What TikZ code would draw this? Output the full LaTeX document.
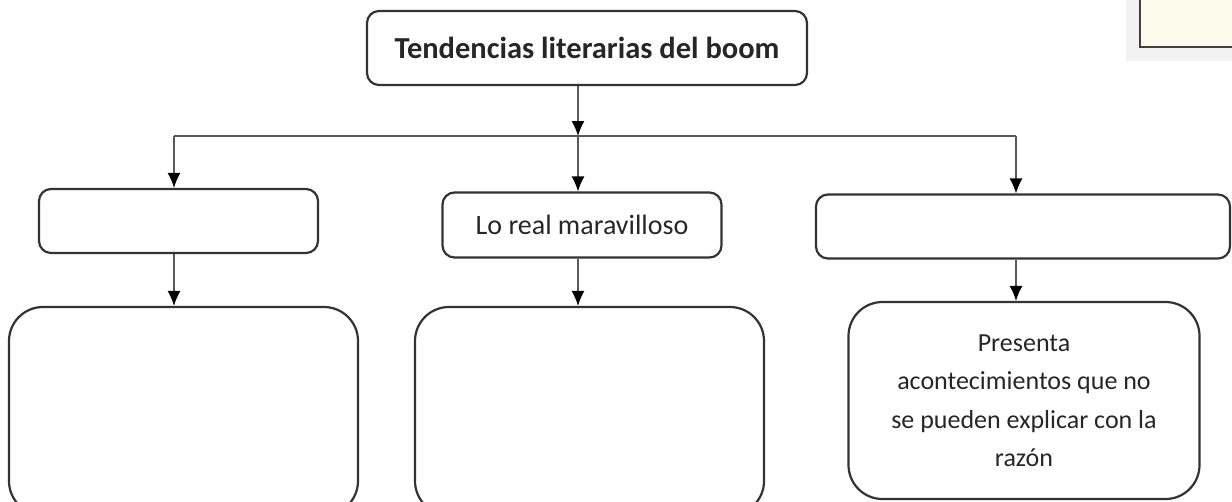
\documentclass[tikz,border=0pt]{standalone}
\usepackage{fontspec}
\setmainfont{Carlito}
\usetikzlibrary{arrows.meta}

\begin{document}
\begin{tikzpicture}[x=1pt,y=-1pt,
  box/.style={draw=black!80, line width=2.2pt, rounded corners=12pt, inner sep=0pt, align=center, text=black!85},
  bigbox/.style={box, rounded corners=34pt},
  link/.style={draw=black!65, line width=1.3pt},
  arr/.style={link, -{Latex[length=15pt,width=13pt,fill=black,color=black]}}]
\useasboundingbox (0,0) rectangle (1232,501);

% paper corner, top right
\fill[black!10] (1132,-10) rectangle (1240,55);
\fill[black!5] (1126,-10) rectangle (1240,61);
\filldraw[fill={rgb,255:red,252;green,250;blue,234}, draw=black!75, line width=1.6pt] (1140,-10) rectangle (1240,47);

\node[box, minimum width=440pt, minimum height=74pt, font=\fontsize{30.5}{36}\selectfont\bfseries] (title) at (587,48) {Tendencias literarias del boom};

\node[box, minimum width=279pt, minimum height=64pt] (L1) at (178.5,221) {};
\node[box, minimum width=279pt, minimum height=65pt, font=\fontsize{28}{32}\selectfont] (M1) at (582,225) {Lo real maravilloso};
\node[box, minimum width=414pt, minimum height=64pt] (R1) at (1023,226.5) {};

\node[bigbox, minimum width=349pt, minimum height=208pt] (L2) at (183.5,411) {};
\node[bigbox, minimum width=349pt, minimum height=208pt] (M2) at (589.5,411) {};
\node[bigbox, minimum width=351pt, minimum height=197pt, font=\fontsize{26}{38.5}\selectfont] (R2) at (1024,400.5) {Presenta\\acontecimientos que no\\se pueden explicar con la\\raz\'on};

\coordinate (top) at (578,136);
\coordinate (lt) at (174,136);
\coordinate (rt) at (1016,136);

\draw[link] (lt) -- (rt);
\draw[arr] (title.south -| top) -- (top);
\draw[arr] (top) -- (M1.north -| top);
\draw[arr] (lt) -- (L1.north -| lt);
\draw[arr] (rt) -- (R1.north -| rt);

\draw[arr] (L1.south -| lt) -- (L2.north -| lt);
\draw[arr] (M1.south -| top) -- (M2.north -| top);
\draw[arr] (R1.south -| rt) -- (R2.north -| rt);
\end{tikzpicture}
\end{document}
